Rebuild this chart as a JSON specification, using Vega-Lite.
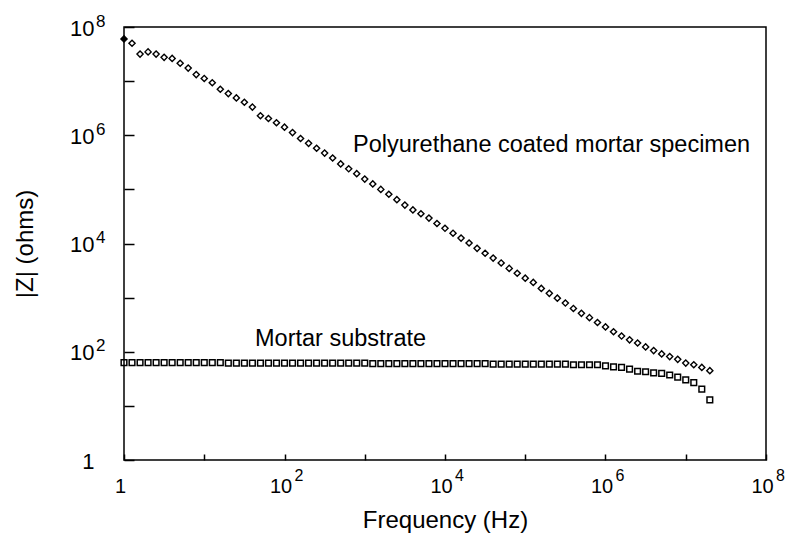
{
  "$schema": "https://vega.github.io/schema/vega-lite/v6.json",
  "width": 642,
  "height": 433,
  "autosize": {"type": "none"},
  "padding": {"left": 124, "top": 27, "right": 22, "bottom": 85},
  "background": "white",
  "config": {
    "font": "Liberation Sans",
    "view": {"stroke": "black", "strokeWidth": 1.5},
    "axis": {"domain": false, "grid": false, "tickColor": "black", "tickWidth": 1.5, "labelColor": "black", "titleColor": "black", "titleFontWeight": "normal", "labelOverlap": false, "labelFlush": false}
  },
  "resolve": {"axis": {"x": "independent", "y": "independent"}},
  "datasets": {
    "coated": [
      {"f": 1, "z": 60300000}, {"f": 1.259, "z": 50100000}, {"f": 1.585, "z": 31600000}, {"f": 1.995, "z": 34700000}, {"f": 2.512, "z": 31600000},
      {"f": 3.162, "z": 27500000}, {"f": 3.981, "z": 26300000}, {"f": 5.012, "z": 21400000}, {"f": 6.31, "z": 17400000}, {"f": 7.943, "z": 13200000},
      {"f": 10, "z": 11200000}, {"f": 12.59, "z": 9330000}, {"f": 15.85, "z": 7080000}, {"f": 19.95, "z": 5890000}, {"f": 25.12, "z": 4900000},
      {"f": 31.62, "z": 4070000}, {"f": 39.81, "z": 3310000}, {"f": 50.12, "z": 2290000}, {"f": 63.1, "z": 2040000}, {"f": 79.43, "z": 1700000},
      {"f": 100, "z": 1410000}, {"f": 125.9, "z": 1120000}, {"f": 158.5, "z": 871000}, {"f": 199.5, "z": 708000}, {"f": 251.2, "z": 575000},
      {"f": 316.2, "z": 468000}, {"f": 398.1, "z": 380000}, {"f": 501.2, "z": 295000}, {"f": 631, "z": 240000}, {"f": 794.3, "z": 195000},
      {"f": 1000, "z": 155000}, {"f": 1259, "z": 126000}, {"f": 1585, "z": 100000}, {"f": 1995, "z": 81300}, {"f": 2512, "z": 64600},
      {"f": 3162, "z": 51300}, {"f": 3981, "z": 41700}, {"f": 5012, "z": 35500}, {"f": 6310, "z": 29500}, {"f": 7943, "z": 23400},
      {"f": 10000, "z": 19100}, {"f": 12590, "z": 15500}, {"f": 15850, "z": 12600}, {"f": 19950, "z": 10200}, {"f": 25120, "z": 8130},
      {"f": 31620, "z": 6610}, {"f": 39810, "z": 5370}, {"f": 50120, "z": 4370}, {"f": 63100, "z": 3470}, {"f": 79430, "z": 2820},
      {"f": 100000, "z": 2290}, {"f": 125900, "z": 1910}, {"f": 158500, "z": 1480}, {"f": 199500, "z": 1200}, {"f": 251200, "z": 977},
      {"f": 316200, "z": 794}, {"f": 398100, "z": 631}, {"f": 501200, "z": 513}, {"f": 631000, "z": 427}, {"f": 794300, "z": 347},
      {"f": 1000000, "z": 288}, {"f": 1259000, "z": 234}, {"f": 1585000, "z": 195}, {"f": 1995000, "z": 166}, {"f": 2512000, "z": 145},
      {"f": 3162000, "z": 123}, {"f": 3981000, "z": 105}, {"f": 5012000, "z": 91.2}, {"f": 6310000, "z": 81.3}, {"f": 7943000, "z": 72.4},
      {"f": 10000000, "z": 61.7}, {"f": 12590000, "z": 57.5}, {"f": 15850000, "z": 51.3}, {"f": 19950000, "z": 44.7}
    ],
    "mortar": [
      {"f": 1, "z": 63.1}, {"f": 1.259, "z": 63.1}, {"f": 1.585, "z": 63.1}, {"f": 1.995, "z": 63.1}, {"f": 2.512, "z": 63.1},
      {"f": 3.162, "z": 63.1}, {"f": 3.981, "z": 63.1}, {"f": 5.012, "z": 63.1}, {"f": 6.31, "z": 63.1}, {"f": 7.943, "z": 63.1},
      {"f": 10, "z": 63.1}, {"f": 12.59, "z": 63.1}, {"f": 15.85, "z": 63.1}, {"f": 19.95, "z": 61.7}, {"f": 25.12, "z": 61.7},
      {"f": 31.62, "z": 61.7}, {"f": 39.81, "z": 61.7}, {"f": 50.12, "z": 61.7}, {"f": 63.1, "z": 61.7}, {"f": 79.43, "z": 61.7},
      {"f": 100, "z": 61.7}, {"f": 125.9, "z": 61.7}, {"f": 158.5, "z": 61.7}, {"f": 199.5, "z": 61.7}, {"f": 251.2, "z": 61.7},
      {"f": 316.2, "z": 61.7}, {"f": 398.1, "z": 61.7}, {"f": 501.2, "z": 61.7}, {"f": 631, "z": 61.7}, {"f": 794.3, "z": 61.7},
      {"f": 1000, "z": 61.7}, {"f": 1259, "z": 60.3}, {"f": 1585, "z": 60.3}, {"f": 1995, "z": 60.3}, {"f": 2512, "z": 60.3},
      {"f": 3162, "z": 60.3}, {"f": 3981, "z": 60.3}, {"f": 5012, "z": 60.3}, {"f": 6310, "z": 60.3}, {"f": 7943, "z": 60.3},
      {"f": 10000, "z": 60.3}, {"f": 12590, "z": 60.3}, {"f": 15850, "z": 60.3}, {"f": 19950, "z": 60.3}, {"f": 25120, "z": 60.3},
      {"f": 31620, "z": 60.3}, {"f": 39810, "z": 58.9}, {"f": 50120, "z": 58.9}, {"f": 63100, "z": 58.9}, {"f": 79430, "z": 58.9},
      {"f": 100000, "z": 58.9}, {"f": 125900, "z": 58.9}, {"f": 158500, "z": 58.9}, {"f": 199500, "z": 58.9}, {"f": 251200, "z": 58.9},
      {"f": 316200, "z": 58.9}, {"f": 398100, "z": 57.5}, {"f": 501200, "z": 57.5}, {"f": 631000, "z": 57.5}, {"f": 794300, "z": 57.5},
      {"f": 1000000, "z": 55.0}, {"f": 1259000, "z": 52.5}, {"f": 1585000, "z": 51.3}, {"f": 1995000, "z": 47.9}, {"f": 2512000, "z": 43.7},
      {"f": 3162000, "z": 42.7}, {"f": 3981000, "z": 40.7}, {"f": 5012000, "z": 39.8}, {"f": 6310000, "z": 37.2}, {"f": 7943000, "z": 33.9},
      {"f": 10000000, "z": 30.2}, {"f": 12590000, "z": 26.9}, {"f": 15850000, "z": 20.4}, {"f": 19950000, "z": 12.9}
    ],
    "notes": [
      {"f": 713, "z": 490000, "label": "Polyurethane coated mortar specimen"},
      {"f": 42.9, "z": 128, "label": "Mortar substrate"}
    ]
  },
  "layer": [
    {
      "data": {"name": "mortar"},
      "mark": {"type": "point", "shape": "square", "size": 32, "filled": false, "stroke": "black", "strokeWidth": 1.5, "opacity": 1},
      "encoding": {
        "x": {
          "field": "f", "type": "quantitative",
          "scale": {"type": "log", "domain": [1, 100000000], "nice": false},
          "axis": {
            "orient": "bottom",
            "values": [1, 10, 100, 1000, 10000, 100000, 1000000, 10000000, 100000000],
            "labelExpr": "round(log(datum.value)/LN10) % 2 == 1 ? '' : (datum.value < 2 ? '1' : '10')",
            "tickSize": -6, "labelFontSize": 20, "labelPadding": 22, "labelOffset": -4,
            "title": "Frequency (Hz)", "titleFontSize": 24, "titleBaseline": "alphabetic", "titleY": 67
          }
        },
        "y": {
          "field": "z", "type": "quantitative",
          "scale": {"type": "log", "domain": [1, 100000000], "nice": false},
          "axis": {
            "orient": "left",
            "values": [1, 10, 100, 1000, 10000, 100000, 1000000, 10000000, 100000000],
            "labelExpr": "round(log(datum.value)/LN10) % 2 == 1 ? '' : (datum.value < 2 ? '1' : '10')",
            "tickSize": -10, "labelFontSize": 22, "labelPadding": 40, "labelOffset": 1,
            "title": "|Z| (ohms)", "titleFontSize": 24, "titleBaseline": "middle", "titleX": -99, "titleAngle": -90
          }
        }
      }
    },
    {
      "data": {"name": "coated"},
      "mark": {"type": "point", "shape": "diamond", "size": 38, "stroke": "black", "strokeWidth": 1.4, "opacity": 1},
      "encoding": {
        "x": {
          "field": "f", "type": "quantitative",
          "scale": {"type": "log", "domain": [1, 100000000], "nice": false},
          "axis": {
            "orient": "bottom",
            "values": [100, 10000, 1000000, 100000000],
            "labelExpr": "'' + round(log(datum.value)/LN10)",
            "ticks": false, "labelFontSize": 16, "labelPadding": 7, "labelOffset": 14,
            "title": null
          }
        },
        "y": {
          "field": "z", "type": "quantitative",
          "scale": {"type": "log", "domain": [1, 100000000], "nice": false},
          "axis": {
            "orient": "left",
            "values": [100, 10000, 1000000, 100000000],
            "labelExpr": "'' + round(log(datum.value)/LN10)",
            "ticks": false, "labelFontSize": 17, "labelPadding": 19, "labelOffset": -6,
            "title": null
          }
        },
        "fill": {"condition": {"test": "datum.f == 1", "value": "black"}, "value": "white"}
      }
    },
    {
      "data": {"name": "notes"},
      "mark": {"type": "text", "align": "left", "baseline": "alphabetic", "fontSize": 23.5, "color": "black"},
      "encoding": {
        "x": {"field": "f", "type": "quantitative", "axis": null},
        "y": {"field": "z", "type": "quantitative", "axis": null},
        "text": {"field": "label"}
      }
    }
  ]
}
